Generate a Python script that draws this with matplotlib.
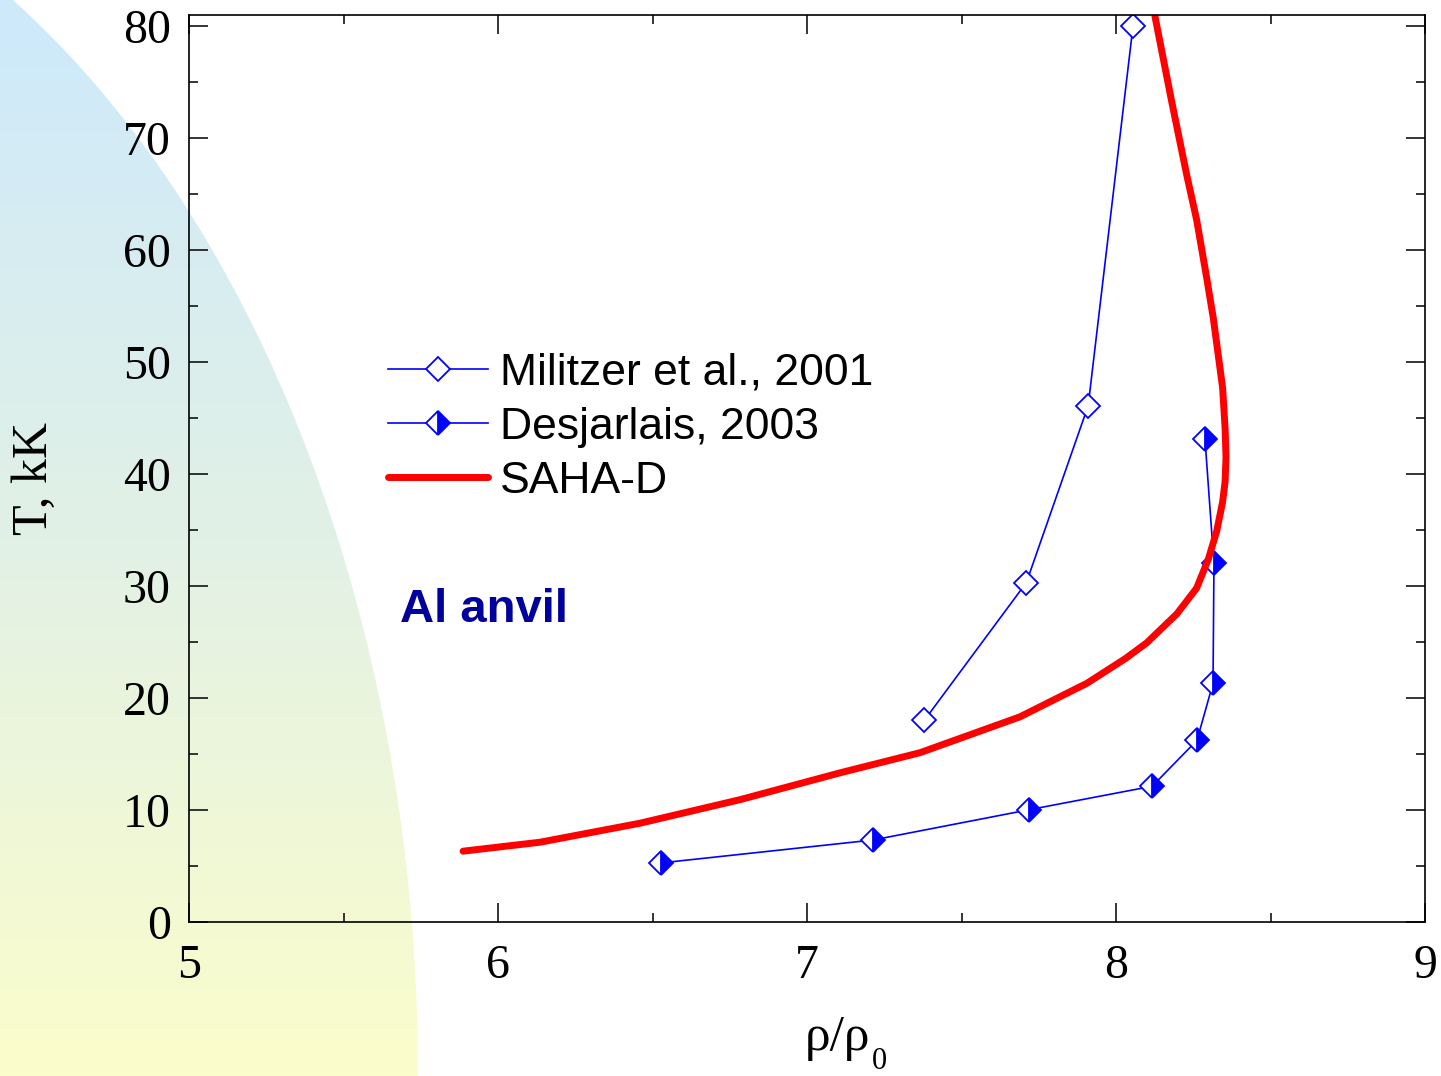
import numpy as np
import matplotlib
matplotlib.use('Agg')
import matplotlib.pyplot as plt
from matplotlib.patches import Ellipse
from matplotlib.colors import LinearSegmentedColormap

# Militzer et al., 2001 (open diamonds)
mil_rho = [7.38, 7.71, 7.91, 8.055]
mil_T = [18.0, 30.3, 46.1, 80.0]

# Desjarlais, 2003 (half filled diamonds)
des_rho = [6.527, 7.214, 7.718, 8.117, 8.262, 8.314, 8.317, 8.288]
des_T = [5.25, 7.3, 10.0, 12.1, 16.2, 21.3, 32.0, 43.1]

# SAHA-D curve
saha_rho = [5.887, 6.136, 6.460, 6.783, 7.107, 7.366, 7.689, 7.906, 8.030, 8.099,
            8.197, 8.261, 8.299, 8.326, 8.345, 8.353, 8.356, 8.353, 8.345, 8.331,
            8.315, 8.293, 8.261, 8.229, 8.180, 8.126]
saha_T = [6.3, 7.1, 8.8, 10.9, 13.3, 15.1, 18.3, 21.3, 23.5, 24.9,
          27.5, 29.8, 32.4, 34.9, 37.5, 39.3, 41.5, 44.1, 47.7, 50.6,
          53.9, 57.6, 62.7, 66.7, 73.3, 80.9]

xticks = [5, 6, 7, 8, 9]
yticks = [0, 10, 20, 30, 40, 50, 60, 70, 80]

plt.rcParams['font.family'] = 'Liberation Serif'

W, H = 1441, 1076
fig = plt.figure(figsize=(W / 100, H / 100), dpi=100)

# background gradient quarter-ellipse
bg = fig.add_axes([0, 0, 1, 1], zorder=0)
bg.set_xlim(0, W)
bg.set_ylim(0, H)
bg.axis('off')
cmap = LinearSegmentedColormap.from_list('bg', ['#cde9fb', '#e2f1e6', '#fbfdcb'])
grad = np.linspace(0, 1, 256)[:, None]
im = bg.imshow(grad, extent=[0, W, 0, H], aspect='auto', cmap=cmap, origin='upper')
ell = Ellipse((-407, 0), 1650, 2500, transform=bg.transData)
im.set_clip_path(ell)

ax = fig.add_axes([189 / W, 1 - 921.7 / H, 1236 / W, 906.7 / H], zorder=1)
ax.patch.set_alpha(0)

ax.plot(mil_rho, mil_T, color='#0000ff', lw=1.2, marker='D', ms=12,
        mfc='white', mec='#0000ff', mew=1.3, label='Militzer et al., 2001')
ax.plot(des_rho, des_T, color='#0000ff', lw=1.2, marker='D', ms=12,
        fillstyle='right', mfc='#0000ff', mfcalt='white', mec='#0000ff', mew=1.3,
        label='Desjarlais, 2003')
ax.plot(saha_rho, saha_T, color='#ff0000', lw=5, solid_capstyle='round',
        solid_joinstyle='round', label='SAHA-D')

ax.set_xlim(5, 9)
ax.set_ylim(0, 81)
ax.set_xticks(xticks)
ax.set_yticks(yticks)
ax.set_xticks(np.arange(5.5, 9, 1.0), minor=True)
ax.set_yticks(np.arange(5, 81, 10), minor=True)
ax.tick_params(which='both', direction='in', top=True, right=True, width=1.1,
               labelsize=34.5, colors='black')
ax.tick_params(which='major', length=13.5)
ax.tick_params(which='minor', length=6.7)
ax.tick_params(axis='x', pad=16)
ax.tick_params(axis='y', pad=13)
for s in ax.spines.values():
    s.set_linewidth(1.2)

# x label: rho/rho with a lowered subscript 0
ax.text(0.525, -0.102, 'ρ/ρ', transform=ax.transAxes, fontsize=37,
        ha='center', va='top')
ax.text(0.5526, -0.162, '0', transform=ax.transAxes, fontsize=22,
        ha='left', va='baseline')
ax.set_ylabel('T, kK', fontsize=36)
ax.yaxis.set_label_coords(-0.106, 0.489)

ax.text(5.683, 26.8, 'Al anvil', fontsize=34, fontweight='bold', color='#00009c',
        family='Liberation Sans', va='baseline')

leg = ax.legend(loc='upper left', bbox_to_anchor=(0.161, 0.628), frameon=False,
                prop={'family': 'Liberation Sans', 'size': 32},
                handlelength=2.25, handletextpad=0.27, labelspacing=0.3,
                borderpad=0, borderaxespad=0)

fig.savefig('out.png', dpi=100)
